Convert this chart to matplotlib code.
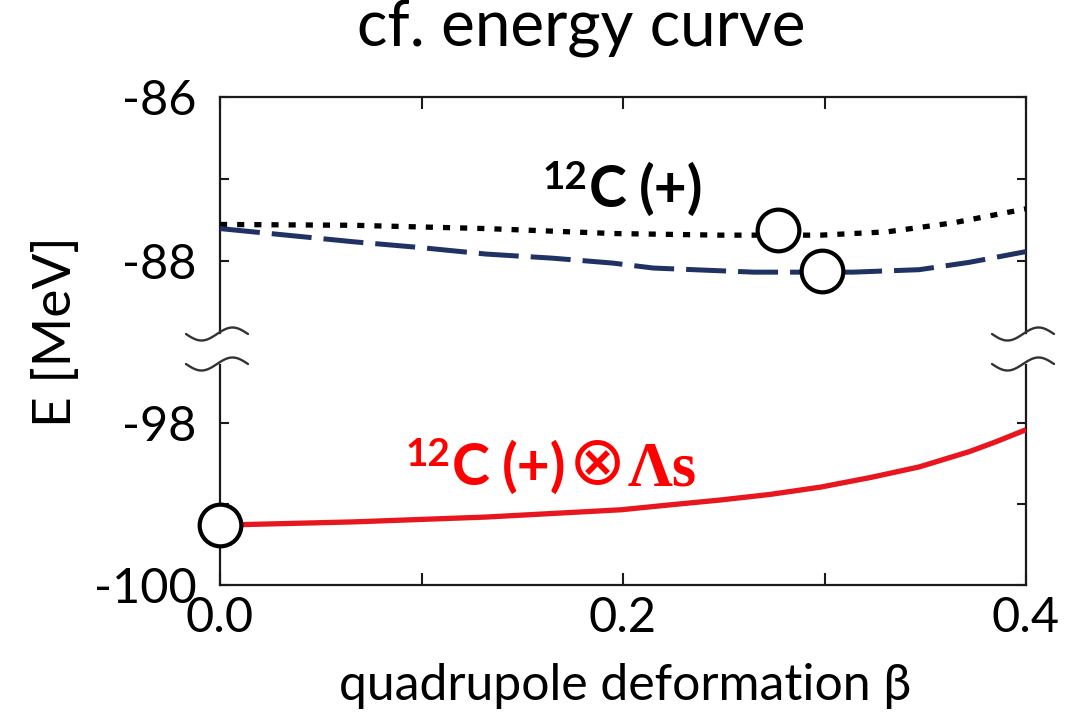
import numpy as np
import matplotlib
matplotlib.use("Agg")
import matplotlib.pyplot as plt
from matplotlib.lines import Line2D
from matplotlib.transforms import IdentityTransform

# ---------------- data ----------------
beta_c = [0.0, 0.066, 0.132, 0.195, 0.248, 0.298, 0.331, 0.364, 0.40]
E_c_dotted = [-87.55, -87.56, -87.60, -87.66, -87.68, -87.68, -87.64, -87.53, -87.36]

beta_d = [0.0, 0.033, 0.066, 0.099, 0.132, 0.165, 0.195, 0.215, 0.265, 0.314, 0.347, 0.372, 0.40]
E_c_dashed = [-87.60, -87.68, -87.76, -87.83, -87.91, -87.96, -88.02, -88.08, -88.13, -88.13, -88.10, -88.01, -87.88]

beta_l = [0.0, 0.066, 0.132, 0.199, 0.223, 0.248, 0.273, 0.298, 0.323, 0.347, 0.372, 0.385, 0.40]
E_lambda = [-99.26, -99.22, -99.16, -99.07, -99.01, -98.95, -98.88, -98.79, -98.67, -98.54, -98.35, -98.23, -98.08]

min_top_beta = [0.277, 0.299]
min_top_E = [-87.62, -88.12]
min_bot_beta = [0.0]
min_bot_E = [-99.26]

top_yticks = [-86, -87, -88]
top_ylabels = ["-86", "", "-88"]
bot_yticks = [-98, -99, -100]
bot_ylabels = ["-98", "", "-100"]
xticks = [0.0, 0.1, 0.2, 0.3, 0.4]
xlabels = ["0.0", "", "0.2", "", "0.4"]

# ---------------- layout ----------------
W, H = 1089, 714
DPI = 100
fig = plt.figure(figsize=(W / DPI, H / DPI), dpi=DPI)
FONT = ["Lato", "DejaVu Sans"]
plt.rcParams["font.family"] = FONT

def frac(x0, y_top, x1, y_bot):
    return [x0 / W, 1 - y_bot / H, (x1 - x0) / W, (y_bot - y_top) / H]

X0, X1 = 220, 1026
ax_t = fig.add_axes(frac(X0, 97, X1, 333))
ax_b = fig.add_axes(frac(X0, 365, X1, 585))

NAVY = "#1f3263"
RED = "#e8161e"
SPC = "#1a1a1a"

for ax in (ax_t, ax_b):
    ax.set_xlim(0.0, 0.4)
    ax.set_xticks(xticks)
    for s in ax.spines.values():
        s.set_linewidth(1.6)
        s.set_color(SPC)
    ax.tick_params(axis="y", direction="in", length=6.5, width=1.5, color=SPC,
                   left=True, right=True, labelsize=35, pad=17)
    ax.tick_params(axis="x", direction="in", length=8.5, width=1.5, color=SPC,
                   labelsize=35, pad=8)

ax_t.set_ylim(-88.87, -86.0)
ax_t.set_yticks(top_yticks)
ax_t.set_yticklabels(top_ylabels)
ax_t.spines["bottom"].set_visible(False)
ax_t.tick_params(axis="x", bottom=False, top=True, labelbottom=False)

ax_b.set_ylim(-100.0, -97.28)
ax_b.set_yticks(bot_yticks)
ax_b.set_yticklabels(bot_ylabels)
ax_b.spines["top"].set_visible(False)
ax_b.tick_params(axis="x", bottom=True, top=False, labelbottom=True)
ax_b.set_xticklabels(xlabels)

# curves
ax_t.plot(beta_c, E_c_dotted, color="black", lw=3.8, dashes=(1.35, 1.9),
          dash_capstyle="butt", zorder=3)
ax_t.plot(beta_d, E_c_dashed, color=NAVY, lw=3.6, dashes=(8.0, 2.4),
          dash_capstyle="butt", zorder=3)
ax_b.plot(beta_l, E_lambda, color=RED, lw=3.8, zorder=3, solid_capstyle="butt")

mk = dict(marker="o", ms=30, mfc="white", mec="black", mew=3.0, ls="none",
          clip_on=False, zorder=5)
ax_t.plot(min_top_beta, min_top_E, **mk)
ax_b.plot(min_bot_beta, min_bot_E, **mk)

# ---------------- break marks ----------------
def wave(cx, y_img):
    xs = np.linspace(cx - 31, cx + 31, 80)
    ys = y_img + 6.5 * np.sin(2 * np.pi * (xs - (cx - 31)) / 62.0)
    fig.add_artist(Line2D(xs, H - ys, transform=IdentityTransform(),
                          color="#333333", lw=1.7, solid_capstyle="round"))

for cx in (X0 - 3, X1 - 3):
    wave(cx, 334)
    wave(cx, 364)

# ---------------- text ----------------
renderer = fig.canvas.get_renderer()

def fit_size(s, width, **kw):
    t = fig.text(0, 0, s, fontsize=30, **kw)
    w = t.get_window_extent(renderer).width
    t.remove()
    return 30 * width / w

def place(s, x_left, y_base, width, **kw):
    size = fit_size(s, width, **kw)
    return fig.text(x_left, H - y_base, s, transform=IdentityTransform(),
                    ha="left", va="baseline", fontsize=size, **kw)

def put(s, x_left, y_base, size, **kw):
    t = fig.text(x_left, H - y_base, s, transform=IdentityTransform(),
                 ha="left", va="baseline", fontsize=size, **kw)
    return t.get_window_extent(renderer).x1

# title
place("cf. energy curve", 357, 46, 448, family=FONT, color="black")

# x label
place("quadrupole deformation β", 339, 700, 571, family=FONT, color="black")

# y label (rotated)
yl = fig.text(80, H - 332, "E [MeV]", transform=IdentityTransform(),
              ha="right", va="center", rotation=90, fontsize=30, family=FONT)
h = yl.get_window_extent(renderer).height
yl.set_fontsize(30 * 190 / h)

bold = dict(family=FONT, weight="bold")
S_MAIN = fit_size("(+)", 69, **bold) * 0.93
S_SUP = S_MAIN * 0.68

# 12C (+) black
x = put("12", 543, 189, S_SUP, color="black", **bold)
x = put("C", x + 1, 207, S_MAIN, color="black", **bold)
put("(+)", x + 12, 207, S_MAIN, color="black", **bold)

# 12C (+) x Λs red
RT = "#ff0000"
x = put("12", 406, 466, S_SUP, color=RT, **bold)
x = put("C", x + 1, 485, S_MAIN, color=RT, **bold)
x = put("(+)", x + 12, 485, S_MAIN, color=RT, **bold)
osz = fit_size("⊗", 57, family=["DejaVu Sans"])
ot = fig.text(x + 3 + 28.5, H - 465, "⊗", transform=IdentityTransform(),
              ha="center", va="center", fontsize=osz,
              family=["DejaVu Sans"], color=RT)
x = ot.get_window_extent(renderer).x1
place("Λs", x + 1, 485, 69, family=["Liberation Serif", "DejaVu Serif"],
      weight="bold", color=RT)

fig.savefig("out.png", dpi=DPI)
